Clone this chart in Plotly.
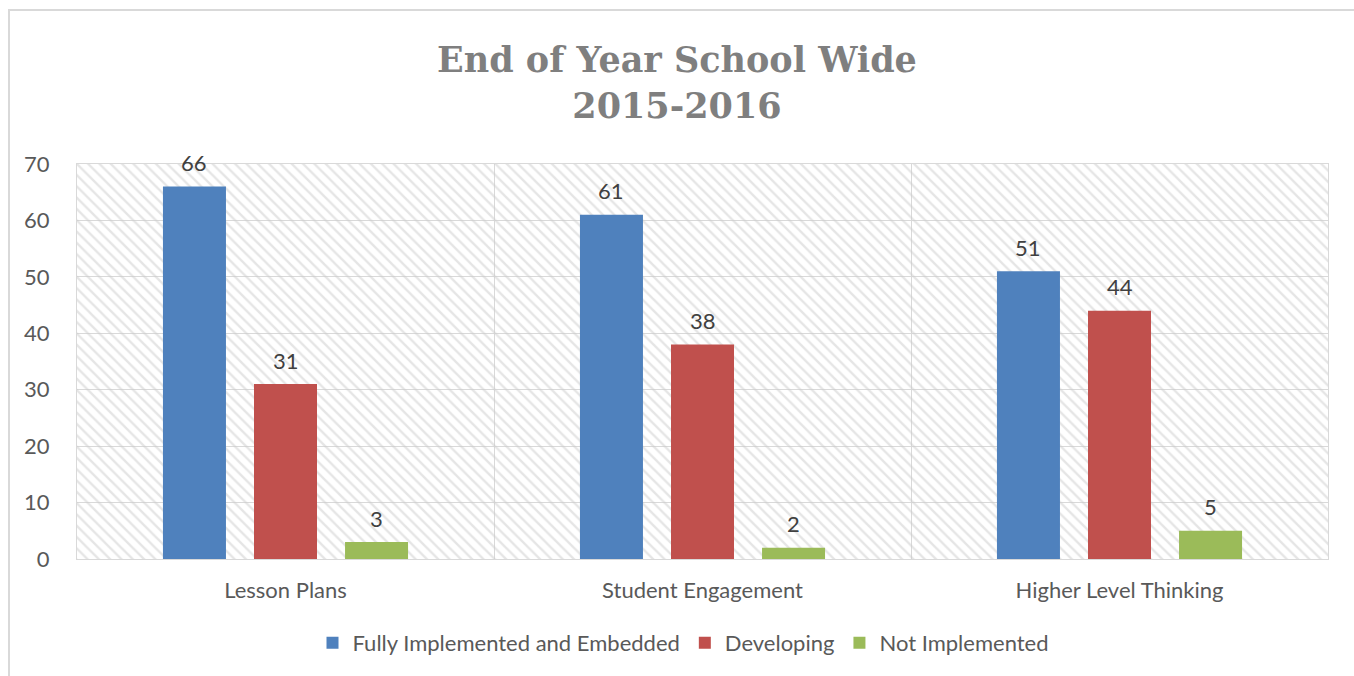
import plotly.graph_objects as go

# Survey categories and counts per implementation level
categories = ["Lesson Plans", "Student Engagement", "Higher Level Thinking"]
fully_implemented = [66, 61, 51]
developing = [31, 38, 44]
not_implemented = [3, 2, 5]

series_names = ["Fully Implemented and Embedded", "Developing", "Not Implemented"]
series_values = [fully_implemented, developing, not_implemented]
series_colors = ["#4f81bd", "#c0504d", "#9bbb59"]

y_max = 70
y_step = 10

W, H = 1354, 676
left, right, top, bottom = 77, 26, 164, 117
plot_w = W - left - right
plot_h = H - top - bottom

BARGAP = 0.345
BARGROUPGAP = 0.308

label_font = "Lato, 'Liberation Sans', sans-serif"
text_grey = "#595959"
grid_grey = "#d9d9d9"

fig = go.Figure()

# Diagonal hatching that fills the plotting area (drawn on the base axes)
n = len(categories)
fig.add_trace(go.Scatter(
    x=[-0.5, n - 0.5, n - 0.5, -0.5, -0.5],
    y=[0, 0, y_max, y_max, 0],
    mode="none",
    fill="toself",
    fillcolor="rgba(0,0,0,0)",
    fillpattern=dict(shape="\\", fgcolor="#cccccc", bgcolor="rgba(0,0,0,0)",
                     size=8, solidity=0.3),
    hoverinfo="skip",
    showlegend=False,
    xaxis="x", yaxis="y",
))

# Grouped bars on overlaying axes so they sit above the hatch
for name, vals, col in zip(series_names, series_values, series_colors):
    fig.add_trace(go.Bar(
        x=categories,
        y=vals,
        name=name,
        marker=dict(color=col, line=dict(width=0)),
        xaxis="x2", yaxis="y2",
    ))

# Value labels floating above each bar
slot = (1 - BARGAP) / len(series_names)
annotations = []
for j, vals in enumerate(series_values):
    offset = (j - (len(series_names) - 1) / 2) * slot
    for i, v in enumerate(vals):
        annotations.append(dict(
            x=i + offset, y=v, xref="x2", yref="y2",
            text=str(v), showarrow=False,
            xanchor="center", yanchor="middle", yshift=24,
            font=dict(family=label_font, size=22, color="#404040"),
        ))

fig.update_layout(
    width=W, height=H,
    margin=dict(l=left, r=right, t=top, b=bottom, autoexpand=False),
    paper_bgcolor="white",
    plot_bgcolor="white",
    barmode="group",
    bargap=BARGAP,
    bargroupgap=BARGROUPGAP,
    title=dict(
        text="<b>End of Year School Wide<br>2015-2016</b>",
        x=0.5, xref="container", xanchor="center",
        y=1 - 72 / H, yref="container", yanchor="middle",
        font=dict(family="'DejaVu Serif', serif", size=35, color="#7f7f7f"),
    ),
    xaxis=dict(
        range=[-0.5, n - 0.5],
        tickvals=[i - 0.5 for i in range(n + 1)],
        showticklabels=False,
        showgrid=True, gridcolor=grid_grey, gridwidth=1,
        zeroline=False,
        showline=True, mirror=True, linecolor=grid_grey, linewidth=1,
        ticks="",
        fixedrange=True,
    ),
    yaxis=dict(
        range=[0, y_max],
        dtick=y_step,
        showgrid=True, gridcolor=grid_grey, gridwidth=1,
        zeroline=False,
        showline=True, mirror=True, linecolor=grid_grey, linewidth=1,
        ticks="",
        ticklabelstandoff=22,
        tickfont=dict(family=label_font, size=22, color=text_grey),
        fixedrange=True,
    ),
    xaxis2=dict(
        overlaying="x",
        type="category",
        categoryorder="array", categoryarray=categories,
        range=[-0.5, n - 0.5],
        showgrid=False, zeroline=False, showline=False,
        ticks="",
        ticklabelstandoff=16,
        tickfont=dict(family=label_font, size=22, color=text_grey),
        fixedrange=True,
    ),
    yaxis2=dict(
        overlaying="y",
        range=[0, y_max],
        visible=False,
        fixedrange=True,
    ),
    legend=dict(
        orientation="h",
        x=0.5 - 19 / plot_w, xanchor="center",
        y=(-(643 - (H - bottom))) / plot_h, yanchor="middle",
        font=dict(family=label_font, size=22, color=text_grey),
        itemwidth=30,
        traceorder="normal",
    ),
    annotations=annotations,
    shapes=[
        # Light outer frame around the chart area
        dict(type="rect", xref="paper", yref="paper",
             x0=(9 - left) / plot_w, x1=(W + 12 - left) / plot_w,
             y0=-(H + 12 - (H - bottom)) / plot_h, y1=((H - bottom) - 10) / plot_h,
             line=dict(color=grid_grey, width=2), layer="below"),
    ],
)

fig.write_html("out.html")
